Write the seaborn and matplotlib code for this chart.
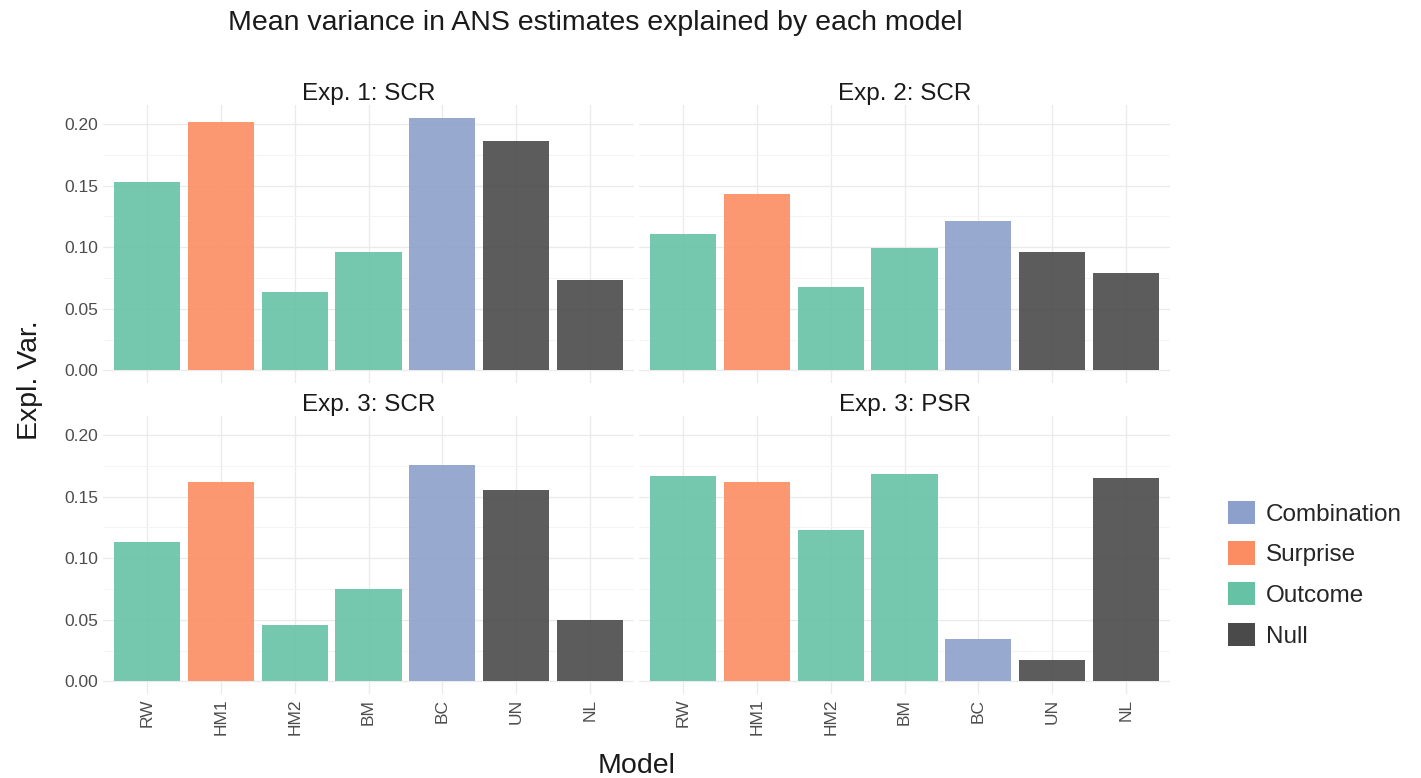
import numpy as np
import pandas as pd
import matplotlib
matplotlib.use("Agg")
import matplotlib.pyplot as plt
import seaborn as sns
from matplotlib.patches import Patch
from matplotlib.ticker import MultipleLocator

# data
models = ["RW", "HM1", "HM2", "BM", "BC", "UN", "NL"]
model_type = ["Outcome", "Surprise", "Outcome", "Outcome", "Combination", "Null", "Null"]
panels = ["Exp. 1: SCR", "Exp. 2: SCR", "Exp. 3: SCR", "Exp. 3: PSR"]
exp1_scr = [0.153, 0.202, 0.064, 0.096, 0.205, 0.186, 0.073]
exp2_scr = [0.111, 0.143, 0.068, 0.099, 0.121, 0.096, 0.079]
exp3_scr = [0.113, 0.162, 0.046, 0.075, 0.176, 0.155, 0.050]
exp3_psr = [0.167, 0.162, 0.123, 0.168, 0.034, 0.017, 0.165]

legend_order = ["Combination", "Surprise", "Outcome", "Null"]
palette = {"Combination": "#8da0cb", "Surprise": "#fc8d62",
           "Outcome": "#66c2a5", "Null": "#4a4a4a"}

rows = []
for name, vals in zip(panels, [exp1_scr, exp2_scr, exp3_scr, exp3_psr]):
    for m, t, v in zip(models, model_type, vals):
        rows.append({"panel": name, "Model": m, "type": t, "expl": v})
df = pd.DataFrame(rows)

sns.set_theme(style="white")
plt.rcParams['font.family'] = ['Liberation Sans', 'DejaVu Sans']

fig = plt.figure(figsize=(14.21, 7.78), dpi=100)
W = 0.3737
H = 0.357
boxes = [(0.0725, 0.5077), (0.4497, 0.5077), (0.0725, 0.108), (0.4497, 0.108)]

for i, (name, (x0, y0)) in enumerate(zip(panels, boxes)):
    ax = fig.add_axes([x0, y0, W, H])
    sub = df[df["panel"] == name]
    sns.barplot(data=sub, x="Model", y="expl", hue="type", order=models,
                palette=palette, dodge=False, width=0.9, alpha=0.9,
                saturation=1, legend=False, ax=ax, zorder=3, linewidth=0)
    ax.set_xlim(-0.6, 6.6)
    ax.set_ylim(-0.01025, 0.2152)
    ax.yaxis.set_major_locator(MultipleLocator(0.05))
    ax.yaxis.set_minor_locator(MultipleLocator(0.025))
    ax.grid(which="major", color="#ebebeb", linewidth=1.0, zorder=0)
    ax.grid(which="minor", axis="y", color="#f3f3f3", linewidth=0.6, zorder=0)
    for s in ax.spines.values():
        s.set_visible(False)
    ax.tick_params(which="both", length=0, colors="#4d4d4d", labelsize=12.5)
    ax.set_xlabel("")
    ax.set_ylabel("")
    ax.set_title(name, fontsize=17.5, color="#1a1a1a", pad=4)
    if i % 2 == 0:
        ax.set_yticks([0.0, 0.05, 0.10, 0.15, 0.20])
        ax.set_yticklabels(["0.00", "0.05", "0.10", "0.15", "0.20"])
    else:
        ax.set_yticklabels([])
    if i >= 2:
        ax.set_xticks(range(len(models)))
        ax.set_xticklabels(models, rotation=90)
    else:
        ax.set_xticklabels([])

fig.text(0.419, 0.971, "Mean variance in ANS estimates explained by each model",
         ha="center", va="center", fontsize=20.5, color="#1a1a1a")
fig.text(0.021, 0.512, "Expl. Var.", rotation=90, ha="center", va="center",
         fontsize=20.5, color="#1a1a1a")
fig.text(0.448, 0.016, "Model", ha="center", va="center",
         fontsize=20.5, color="#1a1a1a")

handles = [Patch(facecolor=palette[k], edgecolor="none", label=k) for k in legend_order]
fig.legend(handles=handles, loc="center left", bbox_to_anchor=(0.849, 0.262),
           frameon=False, fontsize=17.5, handlelength=1.1, handleheight=1.1,
           labelspacing=0.65, handletextpad=0.45)

fig.savefig("out.png", dpi=100)
